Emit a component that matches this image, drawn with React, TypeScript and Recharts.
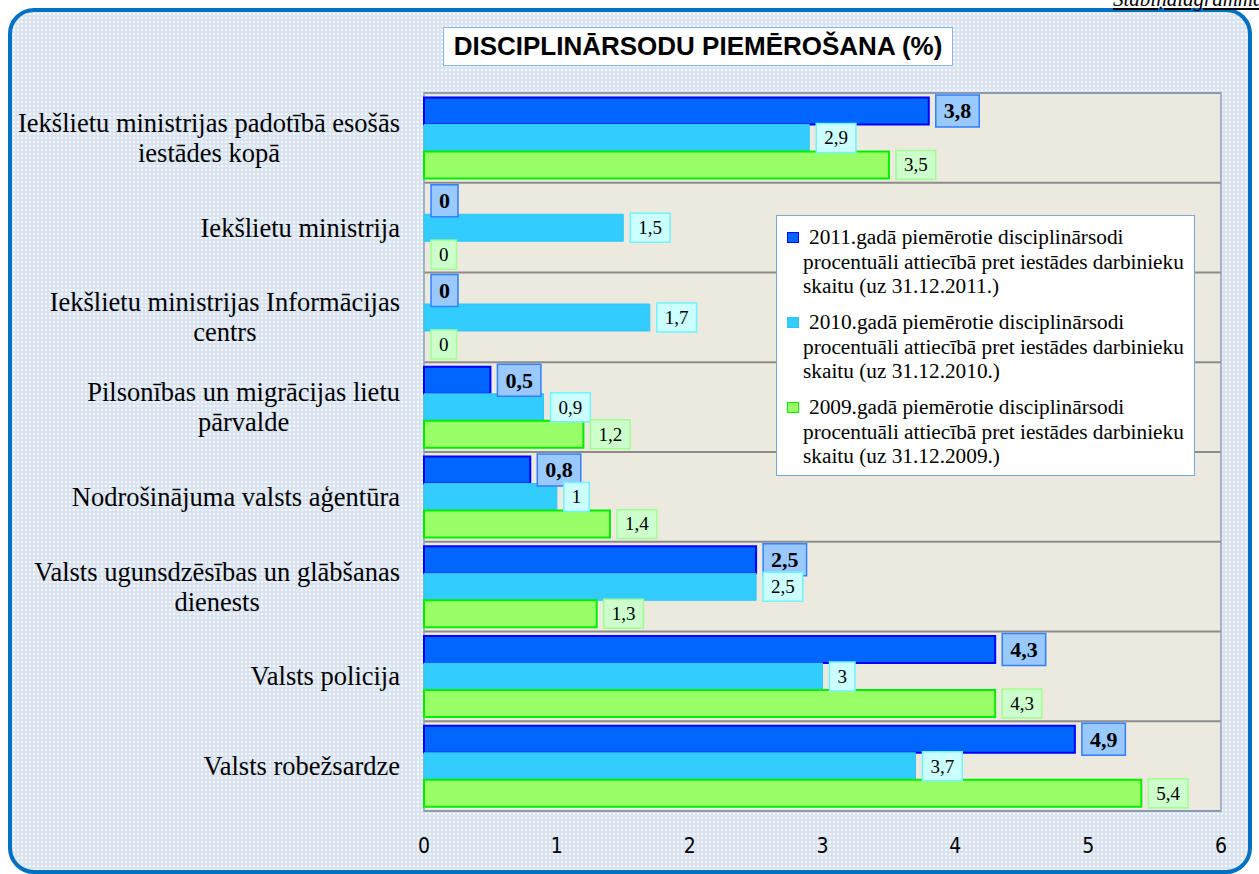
import { Bar, BarChart, CartesianGrid, LabelList, Legend, Rectangle, ReferenceArea, XAxis, YAxis } from 'recharts'

const categories = [
  'Iekšlietu ministrijas padotībā esošās iestādes kopā',
  'Iekšlietu ministrija',
  'Iekšlietu ministrijas Informācijas centrs',
  'Pilsonības un migrācijas lietu pārvalde',
  'Nodrošinājuma valsts aģentūra',
  'Valsts ugunsdzēsības un glābšanas dienests',
  'Valsts policija',
  'Valsts robežsardze',
]
const values2011 = [3.8, 0, 0, 0.5, 0.8, 2.5, 4.3, 4.9]
const values2010 = [2.9, 1.5, 1.7, 0.9, 1, 2.5, 3, 3.7]
const values2009 = [3.5, 0, 0, 1.2, 1.4, 1.3, 4.3, 5.4]
const xTicks = [0, 1, 2, 3, 4, 5, 6]
const name2011 = '2011.gadā piemērotie disciplinārsodi procentuāli attiecībā pret iestādes darbinieku skaitu (uz 31.12.2011.)'
const name2010 = '2010.gadā piemērotie disciplinārsodi procentuāli attiecībā pret iestādes darbinieku skaitu (uz 31.12.2010.)'
const name2009 = '2009.gadā piemērotie disciplinārsodi procentuāli attiecībā pret iestādes darbinieku skaitu (uz 31.12.2009.)'
const title = 'DISCIPLINĀRSODU PIEMĒROŠANA (%)'
const cornerNote = 'Stabiņdiagramma'

const seriesOrder = ['y2011', 'y2010', 'y2009']

const rows = categories.map((name, i) => ({
  name,
  y2011: values2011[i],
  y2010: values2010[i],
  y2009: values2009[i],
}))

const SERIF = "'Liberation Serif', 'Times New Roman', serif"
const CAT_SIZE = 26.5

const styles: Record<string, { fill: string; stroke: string; width: number; boxFill: string; boxStroke: string; bold: boolean }> = {
  y2011: { fill: '#0066FF', stroke: '#0000FF', width: 2, boxFill: '#99C9FF', boxStroke: '#2F7FFF', bold: true },
  y2010: { fill: '#33CCFF', stroke: '#2CC6F7', width: 1, boxFill: '#CCFFFF', boxStroke: '#70F4FF', bold: false },
  y2009: { fill: '#99FF66', stroke: '#00EE00', width: 2, boxFill: '#CCFFCC', boxStroke: '#A0FF90', bold: false },
}

let ctx: CanvasRenderingContext2D | null = null
const measure = (text: string, font: string) => {
  if (!ctx) ctx = document.createElement('canvas').getContext('2d')
  if (!ctx) return text.length * 10
  ctx.font = font
  return ctx.measureText(text).width
}

const wrap = (text: string, maxWidth: number, font: string) => {
  const words = text.split(' ')
  const lines: string[] = []
  let cur = ''
  for (const w of words) {
    const next = cur ? cur + ' ' + w : w
    if (cur && measure(next, font) > maxWidth) {
      lines.push(cur)
      cur = w
    } else {
      cur = next
    }
  }
  if (cur) lines.push(cur)
  return lines
}

const fmt = (v: number) => String(v).replace('.', ',')

const CategoryTick = (props: any) => {
  const { x, y, payload } = props
  const font = `${CAT_SIZE}px 'Liberation Serif'`
  const lines = wrap(String(payload.value), 390, font)
  const widest = Math.max(...lines.map((l) => measure(l, font)))
  const cx = x - widest / 2
  return (
    <text textAnchor="middle" fontFamily={SERIF} fontSize={CAT_SIZE} fill="#000">
      {lines.map((l, i) => (
        <tspan key={i} x={cx} y={y + 9 + (i - (lines.length - 1) / 2) * 30}>
          {l}
        </tspan>
      ))}
    </text>
  )
}

// zero values keep a (hidden) bar so their labels still get drawn
const makeShape = (key: string) => (props: any) => {
  if (!props.payload || Number(props.payload[key]) === 0) return <g />
  return <Rectangle {...props} />
}

const makeLabel = (key: string) => (props: any) => {
  const { x, y, width, height, value } = props
  const s = styles[key]
  const text = fmt(Number(value))
  const size = s.bold ? 22 : 19
  const tw = measure(text, `${s.bold ? 'bold ' : ''}${size}px 'Liberation Serif'`)
  const bw = tw + 16
  const bh = s.bold ? 32 : 29
  const bx = Number(x) + Math.max(0, Number(width)) + 7
  const cy = Number(y) + Number(height) / 2
  return (
    <g>
      <rect x={bx} y={cy - bh / 2} width={bw} height={bh} fill={s.boxFill} stroke={s.boxStroke} strokeWidth={1.5} />
      <text
        x={bx + bw / 2}
        y={cy + size * 0.34}
        textAnchor="middle"
        fontFamily={SERIF}
        fontSize={size}
        fontWeight={s.bold ? 'bold' : 'normal'}
        fill="#000"
      >
        {text}
      </text>
    </g>
  )
}

const LegendBox = (props: any) => {
  const payload = [...(props.payload ?? [])].sort(
    (a: any, b: any) => seriesOrder.indexOf(a.dataKey) - seriesOrder.indexOf(b.dataKey),
  )
  return (
    <div
      style={{
        boxSizing: 'border-box',
        width: 419,
        height: 261,
        background: '#fff',
        border: '1px solid #7FA4D6',
        paddingTop: 9,
        fontFamily: SERIF,
        fontSize: 21.3,
        lineHeight: '24.5px',
        color: '#000',
      }}
    >
      {payload.map((entry: any) => {
        const s = styles[entry.dataKey]
        return (
          <div key={entry.dataKey} style={{ position: 'relative', marginBottom: 11.5 }}>
            <span
              style={{
                position: 'absolute',
                left: 10,
                top: 6.5,
                width: 12,
                height: 11,
                boxSizing: 'border-box',
                background: s.fill,
                border: `1.5px solid ${s.stroke}`,
              }}
            />
            <div style={{ marginLeft: 26, width: 388, textIndent: 6 }}>{entry.value}</div>
          </div>
        )
      })}
    </div>
  )
}

export default function App() {
  return (
    <div style={{ position: 'absolute', left: 0, top: 0, width: 1259, height: 874, overflow: 'hidden', background: '#fff' }}>
      <div
        style={{
          position: 'absolute',
          left: 8,
          top: 8,
          width: 1244,
          height: 866,
          boxSizing: 'border-box',
          border: '4px solid #0070C0',
          borderRadius: 26,
          background:
            'radial-gradient(circle, rgba(255,255,255,0.75) 0.9px, transparent 1.2px) 0 0 / 4px 4px, #d9e3f1',
        }}
      />
      <div
        style={{
          position: 'absolute',
          left: 1113,
          top: -13,
          fontFamily: SERIF,
          fontStyle: 'italic',
          fontSize: 21,
          textDecoration: 'underline',
          whiteSpace: 'nowrap',
          color: '#000',
        }}
      >
        {cornerNote}
      </div>
      <div style={{ position: 'absolute', left: 0, top: 0 }}>
        <BarChart
          layout="vertical"
          width={1259}
          height={874}
          data={rows}
          margin={{ top: 93, right: 38, bottom: 23, left: 0 }}
          barCategoryGap={4.5}
          barGap={0}
        >
          <CartesianGrid
            vertical={false}
            fill="#ECE9DF"
            fillOpacity={1}
            stroke="#8C8C8C"
            strokeWidth={2}
            horizontalCoordinatesGenerator={({ offset }: any) =>
              categories.map((_, i) => offset.top + (i * offset.height) / categories.length).concat(offset.top + offset.height)
            }
          />
          <ReferenceArea x1={0} x2={6} fill="none" stroke="#8DA0BC" strokeWidth={1.5} ifOverflow="visible" />
          <XAxis
            type="number"
            domain={[0, 6]}
            ticks={xTicks}
            axisLine={false}
            tickLine={false}
            tickSize={0}
            tickMargin={27}
            height={40}
            tick={{ fontFamily: "'Liberation Sans Narrow', 'DejaVu Sans Condensed', sans-serif", fontSize: 21, fill: '#000' }}
          />
          <YAxis
            type="category"
            dataKey="name"
            width={424}
            axisLine={false}
            tickLine={false}
            tickSize={0}
            tickMargin={24}
            interval={0}
            tick={(p: any) => <CategoryTick {...p} />}
          />
          <Legend
            layout="horizontal"
            verticalAlign="middle"
            align="center"
            content={(p: any) => <LegendBox {...p} />}
            wrapperStyle={{ left: 776, top: 215, width: 419, height: 261 }}
          />
          <Bar
            dataKey="y2011"
            name={name2011}
            fill={styles.y2011.fill}
            stroke={styles.y2011.stroke}
            strokeWidth={2}
            minPointSize={0.01}
            shape={makeShape('y2011')}
            isAnimationActive={false}
          >
            <LabelList dataKey="y2011" content={makeLabel('y2011')} />
          </Bar>
          <Bar
            dataKey="y2010"
            name={name2010}
            fill={styles.y2010.fill}
            stroke={styles.y2010.stroke}
            strokeWidth={1}
            minPointSize={0.01}
            shape={makeShape('y2010')}
            isAnimationActive={false}
          >
            <LabelList dataKey="y2010" content={makeLabel('y2010')} />
          </Bar>
          <Bar
            dataKey="y2009"
            name={name2009}
            fill={styles.y2009.fill}
            stroke={styles.y2009.stroke}
            strokeWidth={2}
            minPointSize={0.01}
            shape={makeShape('y2009')}
            isAnimationActive={false}
          >
            <LabelList dataKey="y2009" content={makeLabel('y2009')} />
          </Bar>
        </BarChart>
      </div>
      <div
        style={{
          position: 'absolute',
          left: 443,
          top: 27,
          width: 510,
          height: 39,
          boxSizing: 'border-box',
          background: '#fff',
          border: '1.5px solid #8DB4E2',
          fontFamily: "'Liberation Sans', Arial, sans-serif",
          fontWeight: 'bold',
          fontSize: 26,
          lineHeight: '36px',
          textAlign: 'center',
          whiteSpace: 'nowrap',
          color: '#000',
        }}
      >
        {title}
      </div>
    </div>
  )
}
